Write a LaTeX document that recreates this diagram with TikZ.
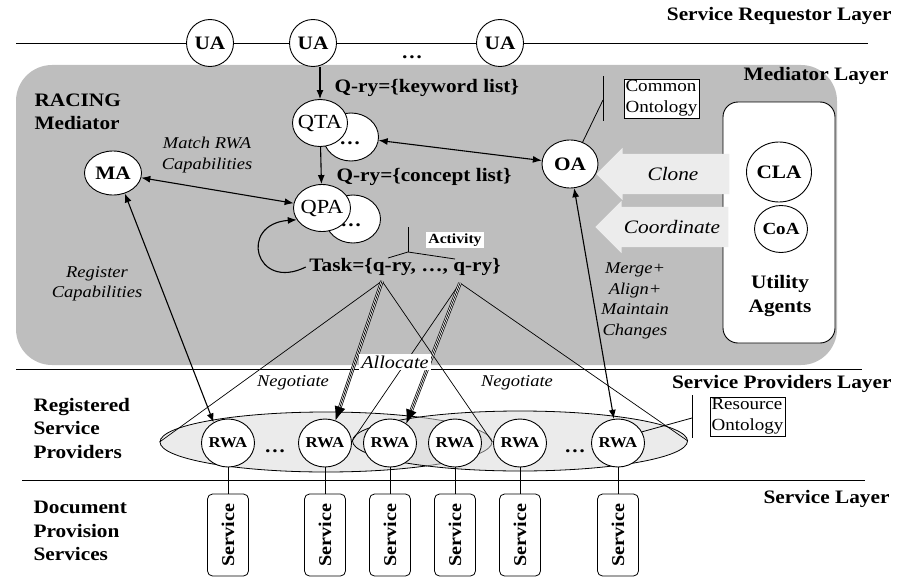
\documentclass[tikz,border=0pt]{standalone}
\usepackage{fontspec}
\setmainfont[FakeStretch=1.12]{Liberation Serif}
\usetikzlibrary{arrows.meta,shapes.geometric,shapes.arrows}

\definecolor{medgray}{RGB}{190,190,190}
\definecolor{provgray}{RGB}{215,215,215}
\definecolor{blockgray}{RGB}{236,236,236}

\begin{document}
\begin{tikzpicture}[x=1pt,y=-1pt,
    >={Latex[length=9pt,width=7pt]},
    big/.style={font=\fontsize{19}{23.5}\selectfont\bfseries},
    note/.style={font=\fontsize{16.5}{20.5}\selectfont\itshape, align=center},
    agent/.style={ellipse, draw, fill=white, line width=0.9pt, inner xsep=-5pt, inner ysep=0pt,
      minimum width=#1, minimum height=47, font=\fontsize{19}{22}\selectfont\bfseries},
    agent/.default=55,
    plainagent/.style={agent=#1, font=\fontsize{20}{22}\selectfont},
    rwa/.style={agent=53, minimum height=48, font=\fontsize{15}{17}\selectfont\bfseries},
    svc/.style={draw, fill=white, rounded corners=5pt, rotate=90, line width=0.8pt,
      minimum width=82, minimum height=41, inner sep=1pt, font=\fontsize{18}{20}\selectfont\bfseries},
    provell/.style={ellipse, draw, line width=0.8pt, fill=provgray, fill opacity=0.5,
      minimum height=60},
    onto/.style={draw, fill=white, line width=0.8pt, inner sep=1.5pt, align=left,
      font=\fontsize{17}{21}\selectfont},
    blockarr/.style={single arrow, shape border rotate=180, fill=blockgray, minimum height=133,
      single arrow head extend=6pt, inner xsep=1pt, inner ysep=13pt, text height=13pt, text depth=1pt,
      font=\fontsize{19}{22}\selectfont\itshape},
    arr/.style={->, line width=1.1pt},
    darr/.style={<->, line width=1.1pt},
    alloc/.style={line width=0.7pt, -{Latex[length=14pt,width=11pt]},
      preaction={draw, -, double, double distance=2.2pt, line width=0.7pt, shorten >=9pt}}]

  \useasboundingbox (0,0) rectangle (899,578);

  % layers
  \fill[medgray, rounded corners=36pt] (16,65) rectangle (837,365);
  \draw[line width=0.9pt] (16,43) -- (868,43);
  \draw[line width=0.9pt] (16,369) -- (862,369);
  \draw[line width=0.9pt] (22,480) -- (865,480);

  \node[big, anchor=east] (reqlayer) at (895,16) {Service Requestor Layer};
  \node[big, anchor=east] (medlayer) at (892,76) {Mediator Layer};
  \node[big, anchor=east] (provlayer) at (895,384) {Service Providers Layer};
  \node[big, anchor=east] (svclayer) at (893,499) {Service Layer};

  \node[big, anchor=west, align=left] (racing) at (31,112) {RACING\\Mediator};
  \node[big, anchor=west, align=left] (registered) at (30,428) {Registered\\Service\\Providers};
  \node[big, anchor=west, align=left] (document) at (30,531) {Document\\Provision\\Services};

  % utility agents
  \node[draw, fill=white, rounded corners=15pt, line width=0.9pt,
    minimum width=112, minimum height=241] (util) at (779,222.5) {};
  \node[blockarr] (clone) at (673,174) {Clone};
  \node[blockarr] (coord) at (672,227) {Coordinate};
  \node[agent=65, minimum height=60] (cla) at (779,172) {CLA};
  \node[agent=53, font=\fontsize{17}{20}\selectfont\bfseries] (coa) at (781,229) {CoA};
  \node[big, align=center] (utiltxt) at (780,296) {Utility\\Agents};

  % service providers
  \node[provell, minimum width=332] (ellL) at (326,442) {};
  \node[provell, minimum width=335] (ellR) at (520,441) {};

  \coordinate (q1) at (382,281);
  \coordinate (q2) at (460,283);
  \begin{scope}[line width=0.7pt]
    \draw (q1) -- (ellL.west);
    \draw (q1) -- (ellL.east);
    \draw (q2) -- (ellR.west);
    \draw (q2) -- (ellR.east);
  \end{scope}

  \node[rwa] (rwa1) at (228,443) {RWA};
  \node[rwa] (rwa2) at (325,443) {RWA};
  \node[rwa] (rwa3) at (390,443) {RWA};
  \node[rwa] (rwa4) at (455,443) {RWA};
  \node[rwa] (rwa5) at (520,443) {RWA};
  \node[rwa] (rwa6) at (618,443) {RWA};
  \node[big] (rwadots1) at (275,451) {\dots};
  \node[big] (rwadots2) at (575,451) {\dots};

  \node[svc] (svc1) at (228,535) {Service};
  \node[svc] (svc2) at (325,535) {Service};
  \node[svc] (svc3) at (390,535) {Service};
  \node[svc] (svc4) at (455,535) {Service};
  \node[svc] (svc5) at (520,535) {Service};
  \node[svc] (svc6) at (618,535) {Service};
  \begin{scope}[line width=0.8pt]
    \draw (rwa1) -- (svc1);
    \draw (rwa2) -- (svc2);
    \draw (rwa3) -- (svc3);
    \draw (rwa4) -- (svc4);
    \draw (rwa5) -- (svc5);
    \draw (rwa6) -- (svc6);
  \end{scope}

  \node[onto] (resource) at (747.5,416.5) {Resource\\Ontology};
  \coordinate (rbtop) at (692,395);
  \coordinate (rbbot) at (692,438);
  \coordinate (rbmid) at (692,418);
  \draw[line width=0.9pt] (rbtop) -- (rbbot);
  \draw[line width=0.8pt] (rwa6.25) -- (rbmid);

  % requestors
  \node[agent=47] (ua1) at (210,43) {UA};
  \node[agent=47] (ua2) at (313,43) {UA};
  \node[agent=47] (ua3) at (500,43) {UA};
  \node[big] (uadots) at (412,57) {\dots};

  % mediator agents
  \node[agent=55, minimum height=48] (qtab) at (351,137) {};
  \node[big] (qtadots) at (350,143) {\dots};
  \node[plainagent=55] (qta) at (320,123) {QTA};
  \node[agent=55, minimum height=48] (qpab) at (353,219) {};
  \node[big] (qpadots) at (351,225) {\dots};
  \node[plainagent=57] (qpa) at (322,208) {QPA};
  \node[agent=57, minimum height=44] (ma) at (113,173) {MA};
  \node[agent=56, minimum height=48] (oa) at (570,164) {OA};

  \node[big, anchor=west] (kwquery) at (331,88) {Q-ry=\{keyword list\}};
  \node[big, anchor=west] (cpquery) at (333,177) {Q-ry=\{concept list\}};
  \node[big] (task) at (405,267) {Task=\{q-ry, \dots, q-ry\}};

  \draw[arr] (ua2.south -| qta.north) -- (qta.north);
  \draw[arr] (qta) -- (qpa);
  \draw[darr] (ma) -- (qpa);
  \draw[darr] (qtab) -- (oa);
  \draw[arr] (task.west) .. controls (255,292) and (238,224) .. (qpa.205);
  \draw[darr] (ma.-60) -- (rwa1.125);
  \draw[darr] (oa) -- (rwa6);
  \draw[alloc] (q1) -- (rwa2.65);
  \draw[alloc] (q2) -- (rwa3.50);

  \node[onto] (common) at (661.5,98.5) {Common\\Ontology};
  \coordinate (cbtop) at (603,76);
  \coordinate (cbbot) at (603,121);
  \coordinate (cbmid) at (603,100);
  \draw[line width=0.9pt] (cbtop) -- (cbbot);
  \draw[line width=0.8pt] (oa.60) -- (cbmid);

  \coordinate (actop) at (408,227);
  \coordinate (acfork) at (408,252);
  \coordinate (acleft) at (388,258);
  \coordinate (acright) at (455,259);
  \draw[line width=0.8pt] (actop) -- (acfork);
  \draw[line width=0.8pt] (acleft) -- (acfork) -- (acright);
  \node[fill=white, inner sep=2pt, font=\fontsize{14}{16}\selectfont\bfseries] (activity) at (455,240) {Activity};

  % labels
  \node[note] (matchlbl) at (207,155) {Match RWA\\Capabilities};
  \node[note] (reglbl) at (97,284) {Register\\Capabilities};
  \node[note] (mergelbl) at (635,301) {Merge+\\Align+\\Maintain\\Changes};
  \node[note] (neg1) at (293,383) {Negotiate};
  \node[note] (neg2) at (517,383) {Negotiate};
  \node[note, fill=white, inner sep=2pt, font=\fontsize{18}{20}\selectfont\itshape] (allocate) at (395,362) {Allocate};
\end{tikzpicture}
\end{document}
